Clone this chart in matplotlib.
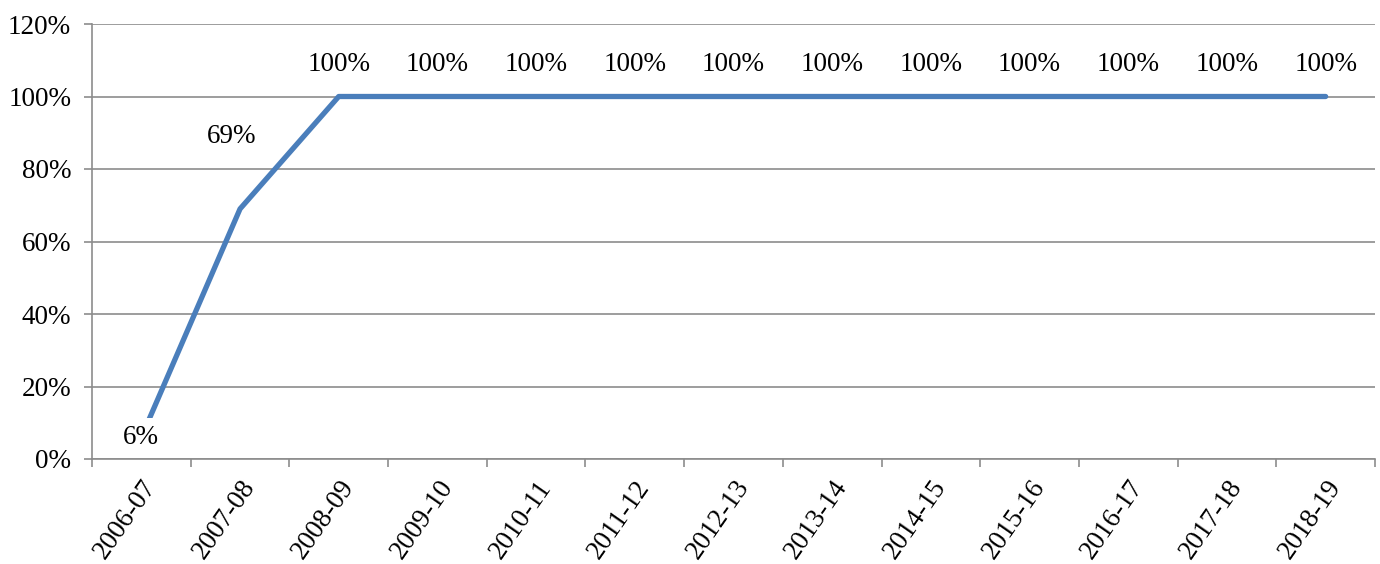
import matplotlib
matplotlib.use("Agg")
import numpy as np
from matplotlib import pyplot as plt
from matplotlib import ticker
from matplotlib import transforms

years = ['2006-07', '2007-08', '2008-09', '2009-10', '2010-11', '2011-12', '2012-13',
         '2013-14', '2014-15', '2015-16', '2016-17', '2017-18', '2018-19']
share = [6, 69, 100, 100, 100, 100, 100, 100, 100, 100, 100, 100, 100]


def main():
    plt.rcParams['font.family'] = ['Liberation Serif', 'DejaVu Serif']
    fig = plt.figure(figsize=(13.8, 5.64), dpi=100)
    ax = fig.add_axes([92 / 1380, 1 - 459 / 564, (1375 - 92) / 1380, (459 - 24) / 564])

    x = np.arange(len(years))
    ax.plot(x, share, color='#4A7EBB', lw=3.8, solid_capstyle='round', zorder=3)

    fs = 19.5
    for i, v in enumerate(share):
        if i == 0:
            ax.text(i, v, f'{v}%', ha='center', va='center', fontsize=fs, zorder=4,
                    bbox=dict(facecolor='white', edgecolor='none', pad=5))
        elif i == 1:
            ax.annotate(f'{v}%', (i, v), xytext=(-6, 52), textcoords='offset points',
                        ha='center', va='center', fontsize=fs)
        else:
            ax.annotate(f'{v}%', (i, v), xytext=(0, 23), textcoords='offset points',
                        ha='center', va='center', fontsize=fs)

    ax.set_xlim(-0.5, len(years) - 0.5)
    ax.set_ylim(0, 120)
    ax.yaxis.set_major_locator(ticker.MultipleLocator(20))
    ax.yaxis.set_major_formatter(ticker.FuncFormatter(lambda v, p: f'{v:.0f}%'))
    ax.grid(axis='y', color='#8c8c8c', lw=1.2)
    ax.set_axisbelow(True)

    ax.set_xticks(x)
    ax.set_xticklabels(years, rotation=55, ha='right', rotation_mode='anchor', fontsize=fs)
    shift = transforms.ScaledTranslation(-6 / 100, 0, fig.dpi_scale_trans)
    for lab in ax.get_xticklabels():
        lab.set_transform(lab.get_transform() + shift)
    ax.set_xticks(np.arange(len(years) + 1) - 0.5, minor=True)
    ax.tick_params(axis='x', which='major', length=0, pad=12)
    ax.tick_params(axis='x', which='minor', length=6, color='#8c8c8c', width=1.2)
    ax.tick_params(axis='y', length=6, color='#8c8c8c', width=1.2, labelsize=fs, pad=9)

    for s in ['top', 'right']:
        ax.spines[s].set_visible(False)
    for s in ['left', 'bottom']:
        ax.spines[s].set_color('#8c8c8c')
        ax.spines[s].set_linewidth(1.2)

    fig.savefig('out.png', dpi=100)


main()
